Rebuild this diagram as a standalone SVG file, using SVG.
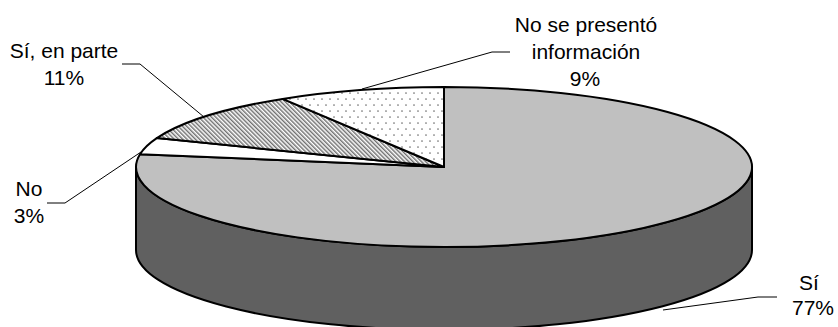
<svg xmlns="http://www.w3.org/2000/svg" width="838" height="327" viewBox="0 0 838 327">
  <defs>
    <pattern id="hatch" patternUnits="userSpaceOnUse" width="3" height="3" patternTransform="rotate(-45)">
      <rect width="3" height="3" fill="#ffffff"/>
      <line x1="0.8" y1="-1" x2="0.8" y2="4" stroke="#404040" stroke-width="1.1"/>
    </pattern>
    <pattern id="dots" patternUnits="userSpaceOnUse" width="8" height="12">
      <rect width="8" height="12" fill="#ffffff"/>
      <circle cx="2" cy="3" r="0.85" fill="#707070"/>
      <circle cx="6" cy="9" r="0.85" fill="#707070"/>
    </pattern>
  </defs>
  <style>
    .edge { stroke: #000000; stroke-width: 2; stroke-linejoin: round; }
    .lead { fill: none; stroke: #000000; stroke-width: 1; }
    text { font-family: "Liberation Sans", Arial, sans-serif; font-size: 21px; fill: #000000; text-anchor: middle; }
  </style>
  <rect width="838" height="327" fill="#ffffff"/>

  <g id="slice-si">
    <path class="edge" fill="#606060" d="M136,167 A308,80 0 0,0 752,167 L752,250 A308,80 0 0,1 136,250 Z"/>
    <path class="edge" fill="#C0C0C0" d="M444,167 L444,87 A308,80 0 1,1 140,154.2 Z"/>
  </g>
  <g id="slice-no">
    <path class="edge" fill="#ffffff" d="M444,167 L140,154.2 A308,80 0 0,1 156.8,138.1 Z"/>
  </g>
  <g id="slice-si-en-parte">
    <path class="edge" fill="url(#hatch)" d="M444,167 L156.8,138.1 A308,80 0 0,1 282.6,98.9 Z"/>
  </g>
  <g id="slice-no-info">
    <path class="edge" fill="url(#dots)" d="M444,167 L282.6,98.9 A308,80 0 0,1 444,87 Z"/>
  </g>

  <g id="connectors">
    <polyline class="lead" points="777,297 758,297 663,310"/>
    <polyline class="lead" points="510,52 492,52 362,89"/>
    <polyline class="lead" points="122,64 140,64 204,117"/>
    <polyline class="lead" points="47,203 65,203 141,152"/>
  </g>

  <g id="label-si">
    <text x="809" y="290">Sí</text>
    <text x="813" y="315">77%</text>
  </g>
  <g id="label-no-info">
    <text x="586" y="32">No se presentó</text>
    <text x="586" y="59">información</text>
    <text x="585" y="86">9%</text>
  </g>
  <g id="label-si-en-parte">
    <text x="64" y="58">Sí, en parte</text>
    <text x="64" y="85">11%</text>
  </g>
  <g id="label-no">
    <text x="29" y="196">No</text>
    <text x="29" y="223">3%</text>
  </g>
</svg>
